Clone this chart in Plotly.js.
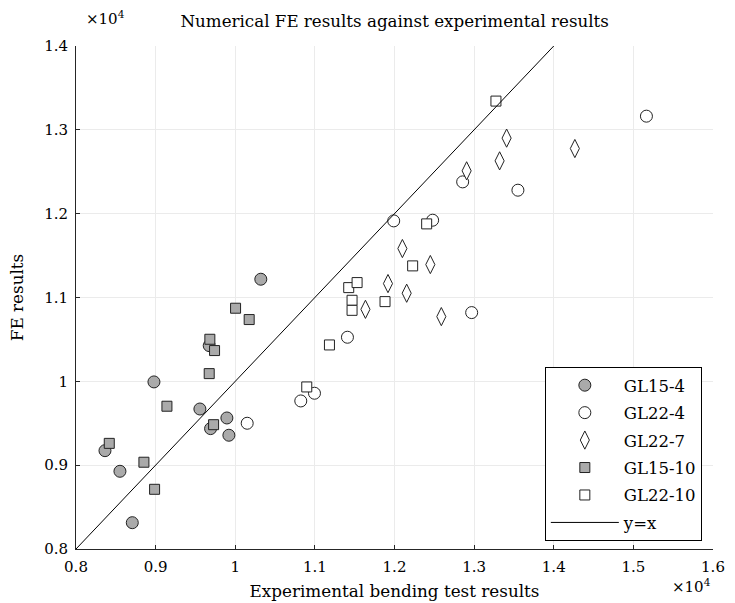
<!DOCTYPE html>
<html>
<head>
<meta charset="utf-8">
<script src="https://cdn.plot.ly/plotly-3.0.1.min.js"></script>
<style>html,body{margin:0;padding:0;background:#fff;}#chart{width:735px;height:603px;}</style>
</head>
<body>
<div id="chart"></div>
<script>
// Experimental bending test results (x) vs numerical FE results (y)
const gl15_4_x = [8364, 8552, 8707, 8979, 9556, 9690, 9895, 9920, 9673, 10321];
const gl15_4_y = [9173, 8927, 8314, 9993, 9670, 9436, 9563, 9357, 10426, 11218];

const gl22_4_x = [10150, 10823, 10995, 11409, 11990, 12479, 12856, 13550, 12969, 15164];
const gl22_4_y = [9500, 9766, 9858, 10526, 11914, 11922, 12379, 12280, 10820, 13163];

const gl22_7_x = [11635, 11918, 12099, 12153, 12450, 12588, 12906, 13320, 13408, 14265];
const gl22_7_y = [10859, 11166, 11584, 11051, 11393, 10772, 12511, 12630, 12901, 12777];

const gl15_10_x = [8418, 8853, 8987, 9142, 9728, 9673, 9681, 9740, 10004, 10175];
const gl15_10_y = [9260, 9035, 8712, 9703, 9483, 10092, 10502, 10367, 10872, 10737];

const gl22_10_x = [10898, 11183, 11425, 11530, 11467, 11467, 11881, 12228, 12404, 13274];
const gl22_10_y = [9933, 10434, 11118, 11178, 10967, 10847, 10951, 11377, 11878, 13343];

const identity = [8000, 16000];

const xTickVals = [8000, 9000, 10000, 11000, 12000, 13000, 14000, 15000, 16000];
const xTickText = ["0.8", "0.9", "1", "1.1", "1.2", "1.3", "1.4", "1.5", "1.6"];
const yTickVals = [8000, 9000, 10000, 11000, 12000, 13000, 14000];
const yTickText = ["0.8", "0.9", "1", "1.1", "1.2", "1.3", "1.4"];

const FONT = "DejaVu Serif, Liberation Serif, serif";
const gray = "#aaaaaa";
const edge = "#222222";

const traces = [
  {name: "GL15-4", legendgroup: "a", x: gl15_4_x, y: gl15_4_y, mode: "markers", type: "scatter",
   marker: {symbol: "circle", size: 12, color: gray, line: {color: edge, width: 1}}},
  {name: "GL22-4", legendgroup: "b", x: gl22_4_x, y: gl22_4_y, mode: "markers", type: "scatter",
   marker: {symbol: "circle", size: 12, color: "#ffffff", line: {color: edge, width: 1}}},
  {name: "GL22-7", legendgroup: "c", x: gl22_7_x, y: gl22_7_y, mode: "markers", type: "scatter",
   marker: {symbol: "diamond-tall", size: 13, color: "#ffffff", line: {color: edge, width: 1}}},
  {name: "GL15-10", legendgroup: "d", x: gl15_10_x, y: gl15_10_y, mode: "markers", type: "scatter",
   marker: {symbol: "square", size: 10, color: gray, line: {color: edge, width: 1}}},
  {name: "GL22-10", legendgroup: "e", x: gl22_10_x, y: gl22_10_y, mode: "markers", type: "scatter",
   marker: {symbol: "square", size: 10, color: "#ffffff", line: {color: edge, width: 1}}},
  {name: "y=x", legendgroup: "f", x: identity, y: identity, mode: "lines", type: "scatter",
   line: {color: "#000000", width: 1}}
];

const layout = {
  width: 735, height: 603,
  margin: {l: 76, r: 22, t: 46, b: 54},
  paper_bgcolor: "#ffffff", plot_bgcolor: "#ffffff",
  font: {family: FONT, size: 15, color: "#000000"},
  title: {text: "Numerical FE results against experimental results",
          font: {family: FONT, size: 16.7, color: "#000"}, x: 0.537, xanchor: "center", y: 0.965, yanchor: "middle"},
  xaxis: {range: [8000, 16000], tickvals: xTickVals, ticktext: xTickText,
          showgrid: true, gridcolor: "#ebebeb", gridwidth: 1, zeroline: false,
          showline: true, linecolor: "#262626", linewidth: 1, mirror: false,
          ticks: "inside", ticklen: 4, tickcolor: "#262626", ticklabelstandoff: 4,
          tickfont: {family: FONT, size: 15},
          title: {text: "Experimental bending test results", font: {family: FONT, size: 16.8}, standoff: 10}},
  yaxis: {range: [8000, 14000], tickvals: yTickVals, ticktext: yTickText,
          showgrid: true, gridcolor: "#ebebeb", gridwidth: 1, zeroline: false,
          showline: true, linecolor: "#262626", linewidth: 1, mirror: false,
          ticks: "inside", ticklen: 4, tickcolor: "#262626", ticklabelstandoff: 4,
          tickfont: {family: FONT, size: 15},
          title: {text: "FE results", font: {family: FONT, size: 16.8}, standoff: 16}},
  showlegend: true,
  legend: {x: 0.736, y: 0.016, xanchor: "left", yanchor: "bottom",
           bgcolor: "#ffffff", bordercolor: "#000000", borderwidth: 1,
           font: {family: FONT, size: 16.5}, itemwidth: 68, tracegroupgap: 3,
           traceorder: "grouped"},
  annotations: [
    {text: "×10<sup>4</sup>", xref: "paper", yref: "paper", x: 0, y: 1, xshift: 8, yshift: 28,
     xanchor: "left", yanchor: "middle", showarrow: false, font: {family: FONT, size: 15}},
    {text: "×10<sup>4</sup>", xref: "paper", yref: "paper", x: 1, y: 0, xshift: 0, yshift: -37,
     xanchor: "right", yanchor: "middle", showarrow: false, font: {family: FONT, size: 15}}
  ]
};

Plotly.newPlot("chart", traces, layout, {displayModeBar: false, staticPlot: true});
</script>
</body>
</html>
